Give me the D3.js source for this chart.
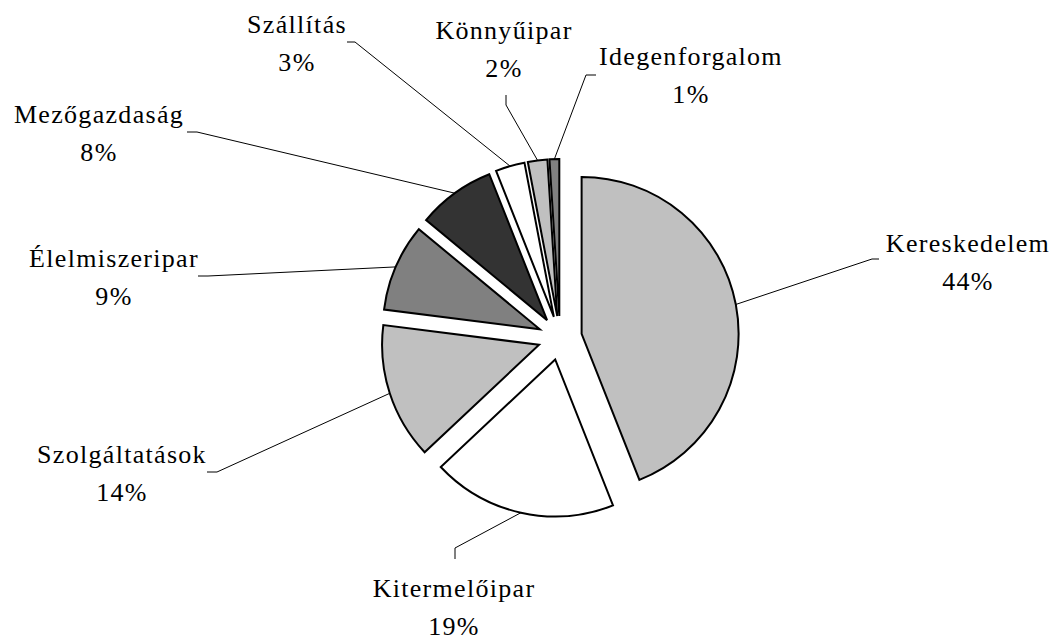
<!DOCTYPE html>
<html>
<head>
<meta charset="utf-8">
<script src="https://cdn.jsdelivr.net/npm/d3@7/dist/d3.min.js"></script>
<style>
  body { margin: 0; background: #fff; }
</style>
</head>
<body>
<svg id="chart" width="1058" height="640"></svg>
<script>
// sectors, clockwise from 12 o'clock
var categories = ['Kereskedelem', 'Kitermelőipar', 'Szolgáltatások', 'Élelmiszeripar',
                  'Mezőgazdaság', 'Szállítás', 'Könnyűipar', 'Idegenforgalom'];
var values = [44, 19, 14, 9, 8, 3, 2, 1];
var percentLabels = ['44%', '19%', '14%', '9%', '8%', '3%', '2%', '1%'];
var fills = ['#c0c0c0', '#ffffff', '#c0c0c0', '#808080', '#333333', '#ffffff', '#c0c0c0', '#808080'];

// label layout: text centre, first baseline, leader end + elbow
var labelPos = [
    { x: 968, y: 252, end: [879, 259], elbow: [872, 259] },
    { x: 454, y: 597, end: [455, 559], elbow: [455, 548] },
    { x: 122, y: 463, end: [207, 472], elbow: [217, 472] },
    { x: 114, y: 267, end: [198, 276], elbow: [208, 276] },
    { x: 99,  y: 123, end: [187, 132], elbow: [197, 132] },
    { x: 297, y: 33,  end: [347, 42],  elbow: [355, 42] },
    { x: 504, y: 39,  end: [506, 95],  elbow: [506, 105] },
    { x: 691, y: 65,  end: [596, 75],  elbow: [586, 75] }
];

var cx = 560, cy = 338;
var radius = 157;
var explode = 22;

var svg = d3.select('#chart');

var pie = d3.pie().sort(null).value(function (d) { return d; });
var arcs = pie(values);

var arc = d3.arc().innerRadius(0).outerRadius(radius);

function midDir(a) {
    var m = (a.startAngle + a.endAngle) / 2;
    return [Math.sin(m), -Math.cos(m)];
}

var g = svg.append('g').attr('transform', 'translate(' + cx + ',' + cy + ')');

// leader lines first so slices sit on top
svg.selectAll('polyline.leader')
    .data(arcs)
    .enter()
    .append('polyline')
    .attr('class', 'leader')
    .attr('points', function (d, i) {
        var dir = midDir(d);
        var r = radius + explode;
        var p0 = [cx + dir[0] * r, cy + dir[1] * r];
        var lp = labelPos[i];
        return [p0, lp.elbow, lp.end].map(function (p) { return p.join(','); }).join(' ');
    })
    .style('fill', 'none')
    .style('stroke', '#000')
    .style('stroke-width', 1);

g.selectAll('path.slice')
    .data(arcs)
    .enter()
    .append('path')
    .attr('class', 'slice')
    .attr('transform', function (d) {
        var dir = midDir(d);
        return 'translate(' + dir[0] * explode + ',' + dir[1] * explode + ')';
    })
    .attr('d', arc)
    .style('fill', function (d, i) { return fills[i]; })
    .style('stroke', '#000')
    .style('stroke-width', 2)
    .style('stroke-linejoin', 'miter');

var labels = svg.selectAll('text.lbl')
    .data(arcs)
    .enter()
    .append('text')
    .attr('class', 'lbl')
    .attr('text-anchor', 'middle')
    .attr('font-family', '"Liberation Serif", "Times New Roman", serif')
    .attr('font-size', 26)
    .attr('letter-spacing', 1.3)
    .attr('fill', '#000');

labels.append('tspan')
    .attr('x', function (d, i) { return labelPos[i].x; })
    .attr('y', function (d, i) { return labelPos[i].y; })
    .text(function (d, i) { return categories[i]; });

labels.append('tspan')
    .attr('x', function (d, i) { return labelPos[i].x; })
    .attr('y', function (d, i) { return labelPos[i].y + 38; })
    .text(function (d, i) { return percentLabels[i]; });
</script>
</body>
</html>
